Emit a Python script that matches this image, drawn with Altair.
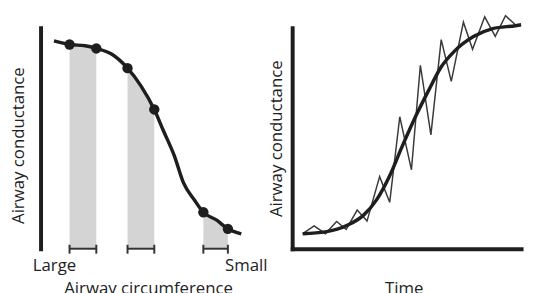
import altair as alt
import pandas as pd

# ---- Left panel: conductance against airway circumference (0 = large ... 100 = small)
CIRC_X = [6, 13, 20, 25, 32, 39, 45, 51, 55, 60, 64, 69, 73, 79, 84, 90]
CIRC_Y = [94, 92.4, 91.8, 90.6, 88, 81.7, 73.7, 63, 53.6, 42, 30, 22, 16.5, 12.9, 9, 6.7]
DOT_X = [13, 25, 39, 51, 73, 84]
DOT_Y = [92.4, 90.6, 81.7, 63, 16.5, 9]
BAND_START = [13, 39, 73]
BAND_END = [25, 51, 84]
END_LABELS = ["Large", "Small"]
END_LABEL_X = [6, 92]

# ---- Right panel: conductance against time
TIME_X = [4.6, 14.5, 24.3, 31.2, 37.0, 42.6, 48.1, 53.9, 59.5, 65.0, 70.8, 79.2, 87.6, 97.5, 100]
TIME_SMOOTH = [6.8, 7.6, 10.7, 15.2, 22.3, 33.0, 46.4, 59.8, 71.4, 82.1, 89.3, 96.0, 99.6, 100.9, 101.3]
ZIG_X = [4.6, 9.6, 14.5, 19.4, 23.6, 28.4, 32.7, 38.2, 42.6, 47.0, 52.1, 56.0, 60.6,
         65.1, 69.5, 74.8, 78.8, 84.1, 88.7, 93.2, 97.5]
ZIG_Y = [6.8, 10.3, 6.8, 12.3, 8.7, 17.5, 12.5, 32.6, 21.0, 59.7, 35.7, 83.0, 51.5,
         94.6, 75.7, 102.5, 90.2, 104.9, 96.1, 105.4, 101.3]

INK = "#1e1e1e"
FONT = "Open Sans"

curve = pd.DataFrame({"x": CIRC_X, "y": CIRC_Y})
dots = pd.DataFrame({"x": DOT_X, "y": DOT_Y})
bands = pd.DataFrame({"start": BAND_START, "end": BAND_END})
band_rows = []
for i, (s, e) in enumerate(zip(BAND_START, BAND_END)):
    for x, y in zip(CIRC_X, CIRC_Y):
        if s <= x <= e:
            band_rows.append({"band": "b%d" % i, "x": x, "y": y})
band_area = pd.DataFrame(band_rows)

label_expr = "datum.value < 50 ? '%s' : '%s'" % (END_LABELS[0], END_LABELS[1])

xs_left = alt.Scale(domain=[0, 100])
ys_left = alt.Scale(domain=[0, 100])

x_axis_left = alt.Axis(domain=False, ticks=False, grid=False, values=END_LABEL_X,
                       labelExpr=label_expr, labelFontSize=17, labelPadding=9,
                       labelColor="#222", labelFont=FONT,
                       title="Airway circumference", titlePadding=7, titleX=109)
y_axis_left = alt.Axis(domain=True, ticks=False, labels=False, grid=False,
                       title="Airway conductance", titlePadding=13, titleY=119)

area = alt.Chart(band_area).mark_area(color="#d4d4d4", interpolate="monotone").encode(
    x=alt.X("x:Q", scale=xs_left, axis=x_axis_left),
    y=alt.Y("y:Q", scale=ys_left, axis=y_axis_left, stack=None),
    detail="band:N",
)
line_left = alt.Chart(curve).mark_line(color=INK, strokeWidth=3.5, interpolate="monotone").encode(
    x=alt.X("x:Q", scale=xs_left), y=alt.Y("y:Q", scale=ys_left)
)
pts = alt.Chart(dots).mark_circle(color=INK, size=110, opacity=1).encode(
    x=alt.X("x:Q", scale=xs_left), y=alt.Y("y:Q", scale=ys_left)
)
bracket = alt.Chart(bands).mark_rule(color="#333", strokeWidth=2).encode(
    x=alt.X("start:Q", scale=xs_left), x2="end:Q", y=alt.datum(0)
)
ends_long = bands.melt(value_name="pos")
caps = alt.Chart(ends_long).mark_rule(color="#333", strokeWidth=2, yOffset=-4, y2Offset=5).encode(
    x=alt.X("pos:Q", scale=xs_left), y=alt.datum(0), y2=alt.datum(0)
)

left = alt.layer(area, line_left, pts, bracket, caps).properties(width=226, height=224)

zig = pd.DataFrame({"t": ZIG_X, "v": ZIG_Y})
smooth = pd.DataFrame({"t": TIME_X, "v": TIME_SMOOTH})
xs_r = alt.Scale(domain=[0, 100])
ys_r = alt.Scale(domain=[0, 100])

zig_line = alt.Chart(zig).mark_line(color="#3a3a3a", strokeWidth=1.5).encode(
    x=alt.X("t:Q", scale=xs_r,
            axis=alt.Axis(domain=True, ticks=False, labels=False, grid=False,
                          title="Time", titlePadding=32, titleX=113)),
    y=alt.Y("v:Q", scale=ys_r,
            axis=alt.Axis(domain=True, ticks=False, labels=False, grid=False,
                          title="Airway conductance", titlePadding=7)),
)
smooth_line = alt.Chart(smooth).mark_line(color=INK, strokeWidth=3.5, interpolate="monotone").encode(
    x=alt.X("t:Q", scale=xs_r), y=alt.Y("v:Q", scale=ys_r)
)
right = alt.layer(zig_line, smooth_line).properties(width=232, height=224)

chart = alt.hconcat(left, right, spacing=0).properties(
    padding={"left": 2, "top": 2, "right": 0, "bottom": 0},
    background="white",
).configure_view(stroke=None).configure_axis(
    domainColor=INK, domainWidth=4, domainCap="square",
    titleFont=FONT, titleFontSize=17, titleFontWeight="normal", titleColor="#222",
    labelFont=FONT,
)

chart.save("out.html", embed_options={"renderer": "svg", "actions": False})
